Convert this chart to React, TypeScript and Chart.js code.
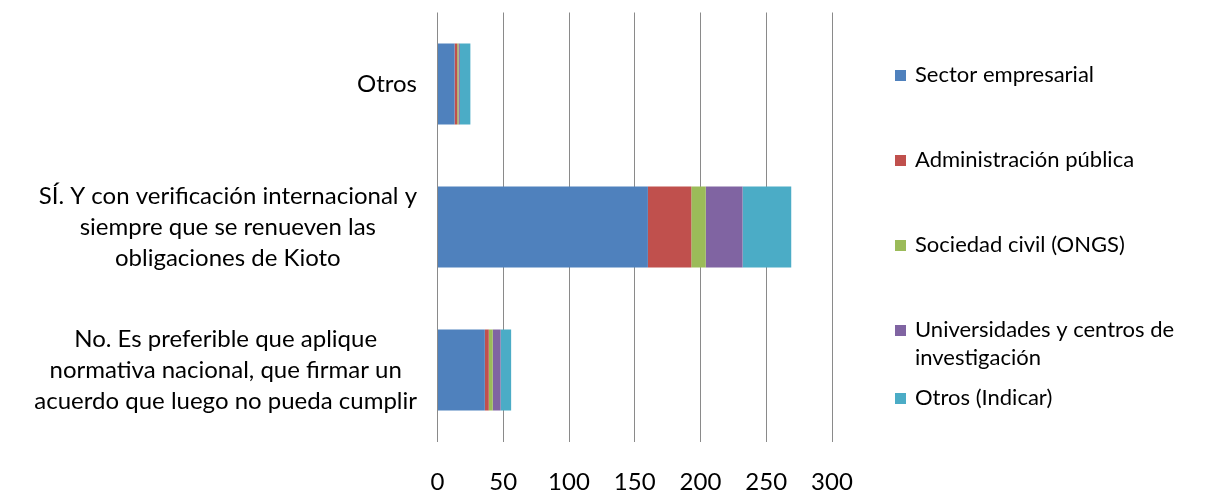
import React, { useEffect, useRef } from "react";
import { Chart, registerables } from "chart.js";

Chart.register(...registerables);

const categories: string[][] = [
  ["Otros"],
  [
    "SÍ. Y con verificación internacional y",
    "siempre que se renueven las",
    "obligaciones de Kioto",
  ],
  [
    "No. Es preferible que aplique",
    "normativa nacional, que firmar un",
    "acuerdo que luego no pueda cumplir",
  ],
];

const seriesNames: string[][] = [
  ["Sector empresarial"],
  ["Administración pública"],
  ["Sociedad civil (ONGS)"],
  ["Universidades y centros de", "investigación"],
  ["Otros (Indicar)"],
];

const sectorEmpresarial = [13, 160, 36];
const administracionPublica = [2, 33, 3];
const sociedadCivil = [1, 11, 3];
const universidades = [1, 28, 6];
const otrosIndicar = [8, 37, 8];

const xTicks = [0, 50, 100, 150, 200, 250, 300];

const seriesColors = ["#4F81BD", "#C0504D", "#9BBB59", "#8064A2", "#4BACC6"];

// layout constants
const W = 1215;
const H = 492;
const FONT = "Lato";
const LABEL_FONT_SIZE = 24;
const TICK_FONT_SIZE = 24;
const LEGEND_FONT_SIZE = 22;
const LABEL_LINE_H = 31;
const LABEL_RIGHT = 417;
const LEGEND_X = 895;
const LEGEND_Y = [75, 160, 245, 330, 398];
const LEGEND_LINE_H = 28;

const labelsPlugin = {
  id: "customLabels",
  afterDraw(chart: any) {
    const ctx = chart.ctx as CanvasRenderingContext2D;
    const yScale = chart.scales.y;
    ctx.save();
    ctx.font = `${LABEL_FONT_SIZE}px ${FONT}`;
    ctx.fillStyle = "#000";
    ctx.textAlign = "center";
    ctx.textBaseline = "middle";
    categories.forEach((lines, i) => {
      const cy = yScale.getPixelForValue(i);
      const w = Math.max(...lines.map((l) => ctx.measureText(l).width));
      const cx = LABEL_RIGHT - w / 2;
      lines.forEach((l, j) => {
        ctx.fillText(l, cx, cy + (j - (lines.length - 1) / 2) * LABEL_LINE_H);
      });
    });
    // legend
    ctx.font = `${LEGEND_FONT_SIZE}px ${FONT}`;
    ctx.textAlign = "left";
    chart.data.datasets.forEach((ds: any, i: number) => {
      const y0 = LEGEND_Y[i];
      ctx.fillStyle = ds.backgroundColor;
      ctx.fillRect(LEGEND_X, y0 - 5, 11, 11);
      ctx.fillStyle = "#000";
      seriesNames[i].forEach((l, j) => {
        ctx.fillText(l, LEGEND_X + 20, y0 + j * LEGEND_LINE_H);
      });
    });
    ctx.restore();
  },
};

export default function App() {
  const ref = useRef<HTMLCanvasElement>(null);
  useEffect(() => {
    if (!ref.current) return;
    const seriesValues = [
      sectorEmpresarial,
      administracionPublica,
      sociedadCivil,
      universidades,
      otrosIndicar,
    ];
    const chart = new Chart(ref.current, {
      type: "bar",
      data: {
        labels: categories.map((c) => c.join(" ")),
        datasets: seriesValues.map((vals, i) => ({
          label: seriesNames[i].join(" "),
          data: vals,
          backgroundColor: seriesColors[i],
          borderWidth: 0,
          barPercentage: 0.567,
          categoryPercentage: 1,
        })),
      },
      options: {
        indexAxis: "y",
        responsive: false,
        animation: false,
        layout: { padding: { top: 12.5, right: 383, left: 0, bottom: 0 } },
        plugins: { legend: { display: false }, tooltip: { enabled: false } },
        scales: {
          x: {
            stacked: true,
            min: xTicks[0],
            max: xTicks[xTicks.length - 1],
            afterBuildTicks: (scale: any) => {
              scale.ticks = xTicks.map((v) => ({ value: v }));
            },
            afterFit: (scale: any) => {
              scale.height = 50.5;
            },
            ticks: {
              color: "#000",
              font: { family: FONT, size: TICK_FONT_SIZE },
              padding: 26,
            },
            grid: { color: "#8a8a8a", drawTicks: false, lineWidth: 1 },
            border: { display: false },
          },
          y: {
            stacked: true,
            afterFit: (scale: any) => {
              scale.width = 437.5;
            },
            ticks: { display: false },
            grid: { display: false },
            border: { display: false },
          },
        },
      },
      plugins: [labelsPlugin],
    });
    return () => chart.destroy();
  }, []);
  return (
    <canvas
      ref={ref}
      width={W}
      height={H}
      style={{ position: "fixed", left: 0, top: 0, display: "block", background: "#fff" }}
    />
  );
}
